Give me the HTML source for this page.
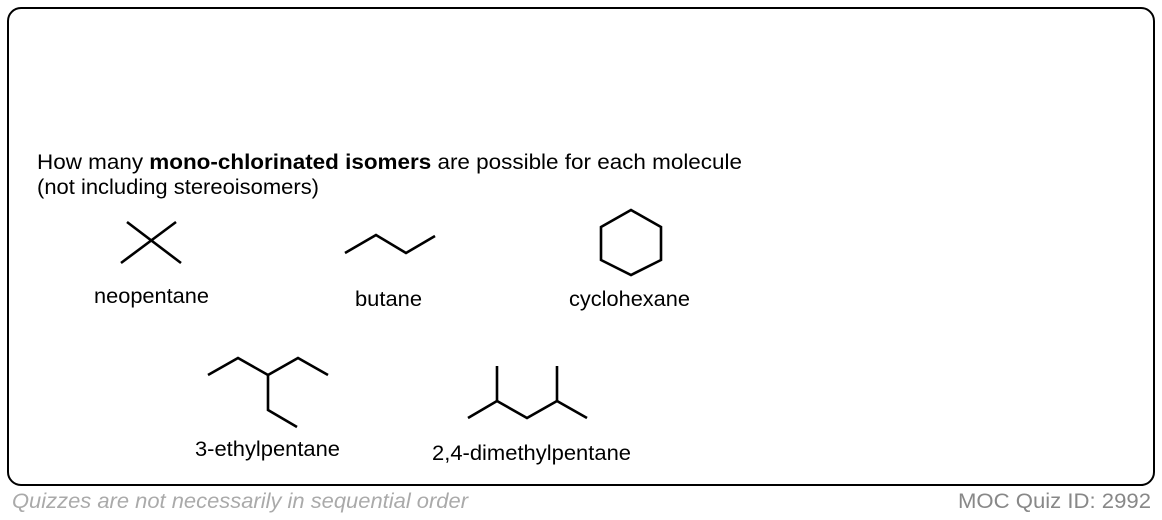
<!DOCTYPE html>
<html><head><meta charset="utf-8"><style>
html,body{margin:0;padding:0;background:#fff;width:1162px;height:520px;overflow:hidden}
svg{display:block}
text{font-family:"Liberation Sans",Arial,sans-serif}
</style></head><body>
<svg width="1162" height="520" viewBox="0 0 1162 520">
<rect x="8" y="8" width="1146" height="477" rx="13" ry="13" fill="#fff" stroke="#000" stroke-width="2"/>
<text x="37" y="169" font-size="21" fill="#000" textLength="705" lengthAdjust="spacingAndGlyphs">How many <tspan font-weight="bold">mono-chlorinated isomers</tspan> are possible for each molecule</text>
<text x="37" y="194" font-size="21" fill="#000" textLength="282" lengthAdjust="spacingAndGlyphs">(not including stereoisomers)</text>
<g stroke="#000" stroke-width="2.6" fill="none" stroke-linecap="butt" stroke-linejoin="miter">
<line x1="127" y1="222" x2="181" y2="263"/>
<line x1="121" y1="263" x2="176" y2="222"/>
<polyline points="345,253 376,235 406,253 435,236"/>
<polygon points="631,210 661,227 661,260 631,275 601,260 601,227"/>
<polyline points="208,375 238,358 268,375 298,358 328,375"/>
<polyline points="268,375 268,410 297,427"/>
<polyline points="468,418 497,401 527,418 557,401 587,418"/>
<line x1="497" y1="401" x2="497" y2="366"/>
<line x1="557" y1="401" x2="557" y2="366"/>
</g>
<g font-size="21" fill="#000">
<text x="94" y="303" textLength="115" lengthAdjust="spacingAndGlyphs">neopentane</text>
<text x="355" y="306" textLength="67" lengthAdjust="spacingAndGlyphs">butane</text>
<text x="569" y="306" textLength="121" lengthAdjust="spacingAndGlyphs">cyclohexane</text>
<text x="195" y="456" textLength="145" lengthAdjust="spacingAndGlyphs">3-ethylpentane</text>
<text x="432" y="460" textLength="199" lengthAdjust="spacingAndGlyphs">2,4-dimethylpentane</text>
</g>
<text x="12" y="508" font-size="21" fill="#aaa" font-style="italic" textLength="456" lengthAdjust="spacingAndGlyphs">Quizzes are not necessarily in sequential order</text>
<text x="958" y="508" font-size="21" fill="#888" textLength="193" lengthAdjust="spacingAndGlyphs">MOC Quiz ID: 2992</text>
</svg>
</body></html>
